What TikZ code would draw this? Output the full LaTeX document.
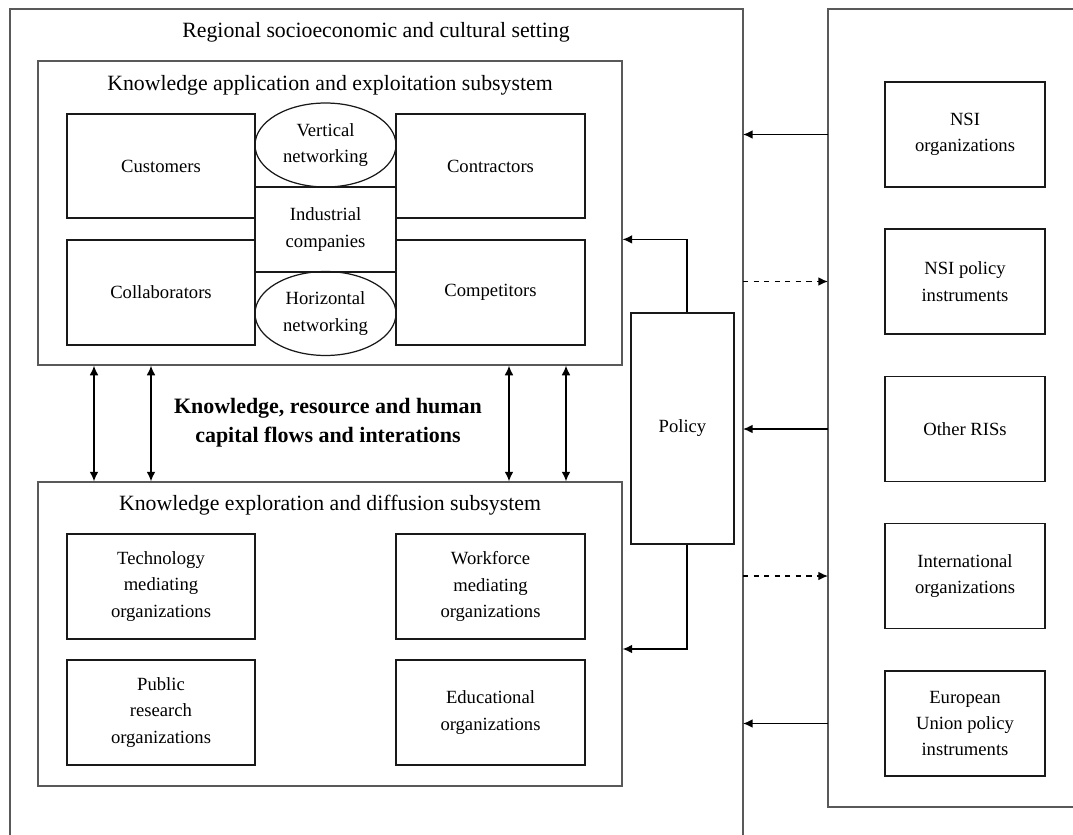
\documentclass[tikz,border=0pt]{standalone}
\usepackage{fontspec}
\setmainfont{Liberation Serif}
\usetikzlibrary{shapes.geometric}
\usetikzlibrary{arrows.meta}

\newcommand{\boxfont}{\fontsize{10.6}{15}\selectfont}
\newcommand{\headfont}{\fontsize{12.4}{15}\selectfont}
\newcommand{\flowfont}{\fontsize{12.5}{16.5}\selectfont\bfseries}

\tikzset{
    frame/.style={draw=black!65, line width=0.7pt, inner sep=0pt},
    unit/.style={draw=black!90, line width=0.7pt, align=center, inner sep=0pt, font=\boxfont},
    net/.style={unit, ellipse, minimum width=2.82cm, minimum height=1.68cm},
    outer/.style={unit, minimum width=3.2cm, minimum height=2.1cm},
    flow/.style={line width=0.85pt, -{Latex[length=5.5pt,width=5pt]}},
    both/.style={line width=0.85pt, {Latex[length=5.5pt,width=5pt]}-{Latex[length=5.5pt,width=5pt]}}
}

\begin{document}
\begin{tikzpicture}[x=0.02cm, y=-0.02cm]
    \useasboundingbox (0,0) rectangle (1073,835);

    % regional setting (open at the bottom)
    \draw[frame] (10,840) -- (10,9) -- (743,9) -- (743,840);
    \node[font=\headfont] (settitle) at (376,32) {Regional socioeconomic and cultural setting};
    \coordinate (sr) at (743,0);

    % surroundings of the region (open at the right)
    \draw[frame] (1080,9) -- (828,9) -- (828,807) -- (1080,807);
    \coordinate (rl) at (828,0);

    % application and exploitation subsystem
    \node[frame, minimum width=11.68cm, minimum height=6.08cm] (appl) at (330,213) {};
    \node[font=\headfont] (appltitle) at (330,85) {Knowledge application and exploitation subsystem};
    \node[unit, minimum width=3.76cm, minimum height=2.08cm] (cust) at (161,166) {Customers};
    \node[unit, minimum width=3.78cm, minimum height=2.08cm] (contr) at (490.5,166) {Contractors};
    \node[unit, minimum width=3.76cm, minimum height=2.1cm] (collab) at (161,292.5) {Collaborators};
    \node[unit, minimum width=3.78cm, minimum height=2.1cm] (compet) at (490.5,292.5) {Competitors};
    \node[unit, minimum width=2.82cm, minimum height=1.7cm] (indus) at (325.5,229.5) {Industrial\\companies};
    \node[net] (vert) at (325.5,145) {Vertical\\networking};
    \node[net] (horiz) at (325.5,313.5) {Horizontal\\networking};

    % exploration and diffusion subsystem
    \node[frame, minimum width=11.68cm, minimum height=6.08cm] (expl) at (330,634) {};
    \node[font=\headfont] (expltitle) at (330,505) {Knowledge exploration and diffusion subsystem};
    \node[unit, minimum width=3.76cm, minimum height=2.1cm] (tech) at (161,586.5) {Technology\\mediating\\organizations};
    \node[unit, minimum width=3.78cm, minimum height=2.1cm] (work) at (490.5,586.5) {Workforce\\mediating\\organizations};
    \node[unit, minimum width=3.76cm, minimum height=2.1cm] (pub) at (161,712.5) {Public\\research\\organizations};
    \node[unit, minimum width=3.78cm, minimum height=2.1cm] (edu) at (490.5,712.5) {Educational\\organizations};

    % flows between the two subsystems
    \node[font=\flowfont, align=center] (flows) at (328,423) {Knowledge, resource and human\\capital flows and interations};
    \foreach \x in {94,151,509,566}{
        \coordinate (c) at (\x,0);
        \draw[both] (appl.south -| c) -- (expl.north -| c);
    }

    % policy
    \node[unit, minimum width=2.06cm, minimum height=4.62cm] (policy) at (682.5,428.5) {Policy};
    \draw[flow] ([xshift=0.09cm]policy.north) |- (appl.east |- collab.north);
    \draw[flow] ([xshift=0.09cm]policy.south) |- ([yshift=-0.3cm]expl.east);

    % outside influences
    \node[outer] (nsiorg) at (965,134.5) {NSI\\organizations};
    \node[outer] (nsipol) at (965,281.5) {NSI policy\\instruments};
    \node[outer] (other) at (965,429) {Other RISs};
    \node[outer] (intl) at (965,576) {International\\organizations};
    \node[outer] (eu) at (965,723.5) {European\\Union policy\\instruments};

    \foreach \n in {nsiorg,other,eu}
        \draw[flow] (\n.west -| rl) -- (\n.west -| sr);
    \foreach \n in {nsipol,intl}
        \draw[flow, dashed] (\n.west -| sr) -- (\n.west -| rl);

\end{tikzpicture}
\end{document}
